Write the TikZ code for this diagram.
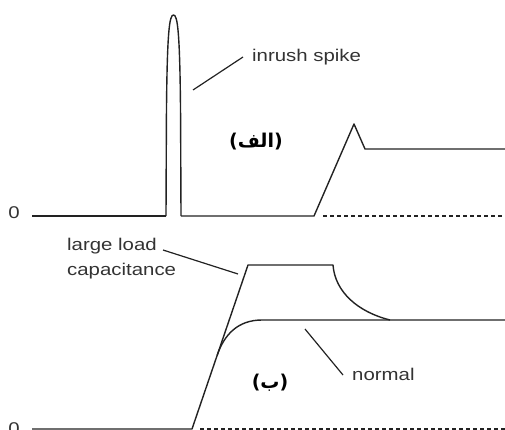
\documentclass[tikz,border=0pt]{standalone}
\usepackage{fontspec}
\setmainfont{Liberation Sans}
\newfontfamily\arabicfont[Script=Arabic]{DejaVu Sans}
\TeXXeTstate=1
\definecolor{ink}{HTML}{222222}
\definecolor{txt}{HTML}{333333}
\tikzset{
  curve/.style={draw=ink, line width=1.4pt, line join=round},
  lead/.style={draw=ink, line width=1.2pt},
  dashline/.style={draw=ink, line width=1.2pt, dash pattern=on 4pt off 3pt},
  lbl/.style={text=txt, inner sep=0pt, font=\fontsize{17}{25}\selectfont},
  arlbl/.style={text=black, inner sep=0pt, font=\arabicfont\bfseries\fontsize{19}{22}\selectfont}
}
\newcommand{\wide}[1]{\scalebox{1.2}[1]{#1}}
\begin{document}
\begin{tikzpicture}[x=1pt,y=-1pt]
\useasboundingbox (0,0) rectangle (505,430);
% ---- top panel ----
\node[lbl] (zeroA) at (14,213) {\wide{0}};
\coordinate (a0) at (32,216);
\coordinate (a1) at (166,216);
\coordinate (a2) at (181,216);
\coordinate (a3) at (314,216);
\coordinate (a4) at (354,124);
\coordinate (a5) at (365,149);
\coordinate (a6) at (505,149);
\coordinate (d0) at (323,216);
\coordinate (d1) at (505,216);
\draw[curve] (a0) -- (a1);
\draw[curve] (a1) -- (166.4,120) .. controls (167,30) and (169.5,15) .. (173.5,15)
  .. controls (177.5,15) and (180,30) .. (180.6,120) -- (a2);
\draw[curve] (a2) -- (a3) -- (a4) -- (a5) -- (a6);
\draw[dashline] (d0) -- (d1);
\node[lbl, anchor=west] (spike) at (252,57) {\wide{inrush spike}};
\coordinate (s0) at (193,90);
\coordinate (s1) at (243,57);
\draw[lead] (s0) -- (s1);
\node[arlbl] (alef) at (256,142) {\beginR(الف)\endR};
% ---- bottom panel ----
\node[lbl] (zeroB) at (14,429) {\wide{0}};
\coordinate (b0) at (32,429);
\coordinate (b1) at (192,429);
\coordinate (b2) at (248,265);
\coordinate (b3) at (333,265);
\coordinate (b4) at (390,320);
\coordinate (n0) at (217.3,355);
\coordinate (n1) at (262,320);
\coordinate (n2) at (505,320);
\coordinate (e0) at (200,429);
\coordinate (e1) at (505,429);
\draw[curve] (b0) -- (b1) -- (b2) -- (b3) .. controls (335,292) and (358,312) .. (b4);
\draw[curve] (n0) .. controls (224.3,334.5) and (238,320) .. (n1) -- (n2);
\draw[dashline] (e0) -- (e1);
\node[lbl, anchor=north west, align=left] (large) at (67,238) {\wide{large load}\\\wide{capacitance}};
\coordinate (l0) at (163,250);
\coordinate (l1) at (238,274);
\draw[lead] (l0) -- (l1);
\node[lbl, anchor=west] (normal) at (352,374) {\wide{normal}};
\coordinate (m0) at (305,329);
\coordinate (m1) at (343,375);
\draw[lead] (m0) -- (m1);
\node[arlbl] (be) at (270,383) {\beginR(ب)\endR};
\end{tikzpicture}
\end{document}
